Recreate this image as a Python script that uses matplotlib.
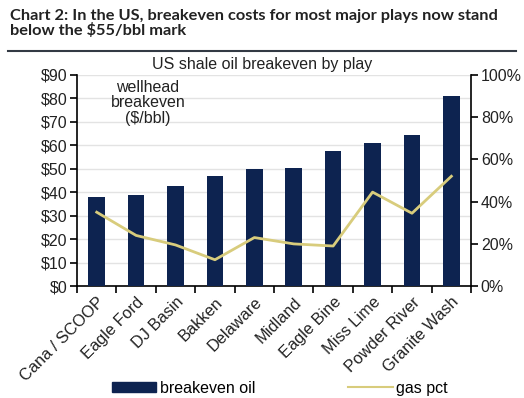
import numpy as np
import matplotlib.pyplot as plt
from matplotlib.patches import Patch
from matplotlib.lines import Line2D

plays = ["Cana / SCOOP", "Eagle Ford", "DJ Basin", "Bakken", "Delaware",
         "Midland", "Eagle Bine", "Miss Lime", "Powder River", "Granite Wash"]
breakeven = [38, 39, 42.5, 47, 50, 50.5, 57.5, 61, 64.5, 81]
gas_pct = [35, 24, 19.5, 12.5, 23, 20, 19, 44.5, 34.5, 52]

navy = "#0d2350"
khaki = "#d8cc7c"
plt.rcParams['font.family'] = ['Liberation Sans', 'DejaVu Sans']

fig = plt.figure(figsize=(5.24, 3.98), dpi=100)
ax = fig.add_axes([0.147, 0.281, 0.752, 0.531])
x = np.arange(len(plays))
ax.bar(x, breakeven, width=0.42, color=navy, zorder=3)
ax.set_xlim(-0.5, 9.5)
ax.set_ylim(0, 90)
ax.set_yticks(range(0, 91, 10))
ax.set_yticklabels([f"${v}" for v in range(0, 91, 10)], fontsize=11.5, color="#222222")
ax.yaxis.grid(True, color="#e3e3e3", lw=1, zorder=0)
ax.set_xticks(np.arange(-0.5, 10, 1))
ax.set_xticklabels([])
ax.set_xticks(x, minor=True)
ax.set_xticklabels(plays, minor=True, rotation=45, ha='right',
                   rotation_mode='anchor', fontsize=11.8, color="#222222")
ax.tick_params(axis='x', which='minor', length=0, pad=6)
ax.tick_params(axis='x', which='major', length=5, width=1.2, direction='out')
ax.tick_params(axis='y', length=5, width=1.2, pad=2)
for s in ['top', 'right']:
    ax.spines[s].set_visible(False)
ax.spines['left'].set_linewidth(1.2)
ax.spines['bottom'].set_linewidth(1.2)

ax2 = ax.twinx()
ax2.plot(x, gas_pct, color=khaki, lw=2, zorder=4)
ax2.set_ylim(0, 100)
ax2.set_yticks(range(0, 101, 20))
ax2.set_yticklabels([f"{v}%" for v in range(0, 101, 20)], fontsize=11.5, color="#222222")
ax2.tick_params(axis='y', length=5, width=1.2, pad=2)
for s in ['top', 'left', 'bottom']:
    ax2.spines[s].set_visible(False)
ax2.spines['right'].set_linewidth(1.2)

ax.text(1.3, 88, "wellhead\nbreakeven\n($/bbl)", ha='center', va='top',
        fontsize=11.5, linespacing=1.05, color="#222222")

fig.text(0.5, 0.818, "US shale oil breakeven by play", ha='center', va='bottom',
         fontsize=11.5, color="#222222")
fig.text(0.019, 0.978, "Chart 2: In the US, breakeven costs for most major plays now stand\nbelow the $55/bbl mark",
         ha='left', va='top', fontsize=11.8, fontweight='bold', linespacing=1.0,
         family=['Lato', 'DejaVu Sans'], color="#222222")
fig.add_artist(Line2D([0.015, 0.985], [0.872, 0.872], color="#333a44", lw=1.5))

handles = [Patch(color=navy), Line2D([0], [0], color=khaki, lw=1.5)]
fig.legend(handles[:1], ["breakeven oil"], loc='center', bbox_to_anchor=(0.35, 0.025),
           frameon=False, fontsize=11.5, handlelength=2.8, handleheight=0.6, handletextpad=0.2)
fig.legend(handles[1:], ["gas pct"], loc='center', bbox_to_anchor=(0.76, 0.025),
           frameon=False, fontsize=11.5, handlelength=2.8, handletextpad=0.2)

fig.savefig("out.png", dpi=100)
